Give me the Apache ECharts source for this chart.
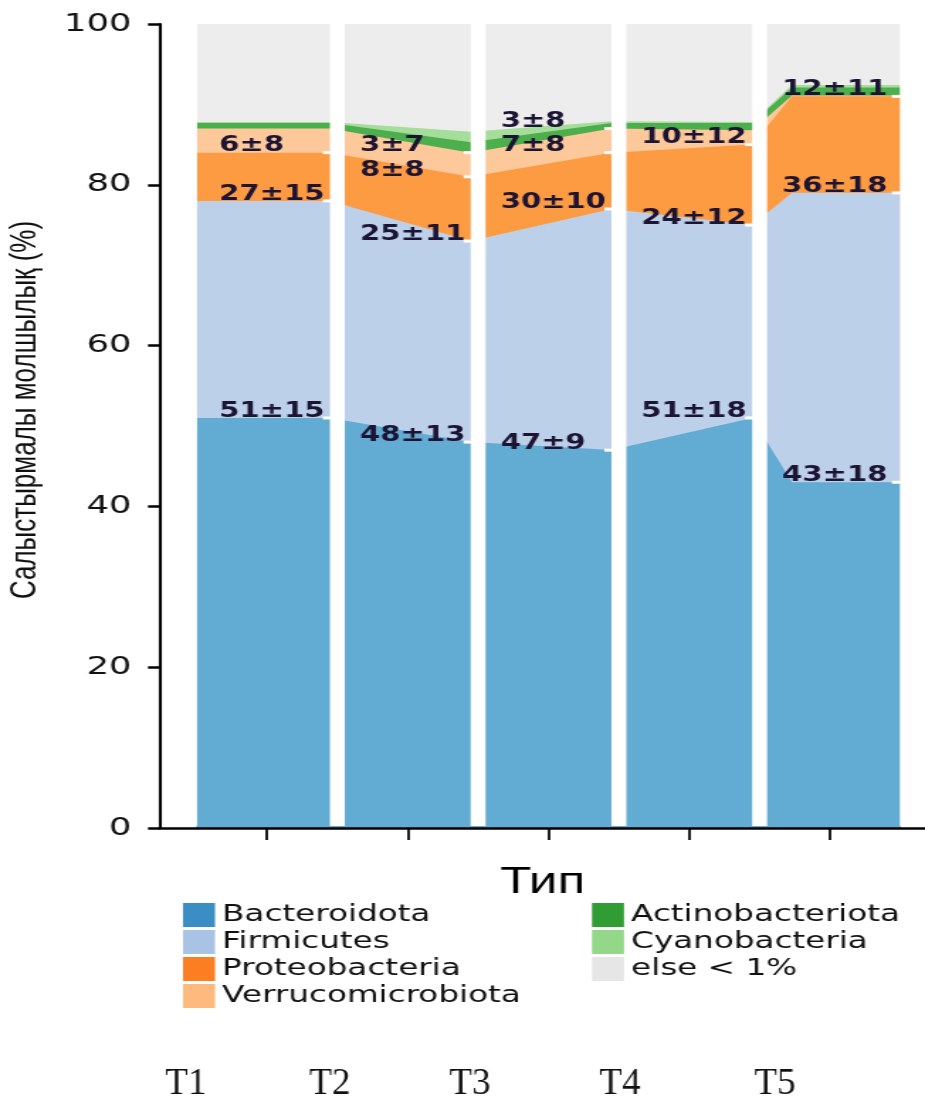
<!DOCTYPE html>
<html>
<head>
<meta charset="utf-8">
<script src="https://cdn.jsdelivr.net/npm/echarts@6/dist/echarts.min.js"></script>
<style>
  html, body { margin: 0; padding: 0; background: #fff; }
  #wrap { width: 925px; height: 1100px; overflow: hidden; background: #fff; }
  #chart { width: 652px; height: 1100px; transform-origin: 0 0; }
</style>
</head>
<body>
<div id="wrap"><div id="chart"></div></div>
<script>
// Group names and phyla
const categories = ['T1', 'T2', 'T3', 'T4', 'T5'];
const phyla = ['Bacteroidota', 'Firmicutes', 'Proteobacteria', 'Verrucomicrobiota',
               'Actinobacteriota', 'Cyanobacteria', 'else < 1%'];

// Mean relative abundance (%) per group
const bacteroidota      = [51, 48, 47, 51, 43];
const firmicutes        = [27, 25, 30, 24, 36];
const proteobacteria    = [6, 8, 7, 10, 12];
const verrucomicrobiota = [3.0, 3, 3, 1.8, 0.1];
const actinobacteriota  = [0.7, 1.3, 0.7, 0.9, 1.0];
const cyanobacteria     = [0.1, 1.3, 0.2, 0.1, 0.3];
const elseRest          = [12.2, 13.4, 12.1, 12.2, 7.6];

// Standard deviations shown in the value labels (null = no label)
const bacteroidotaSd      = [15, 13, 9, 18, 18];
const firmicutesSd        = [15, 11, 10, 12, 18];
const proteobacteriaSd    = [8, 8, 8, 12, 11];
const verrucomicrobiotaSd = [null, 7, 8, null, null];

// Y axis ticks
const yTicks = [0, 20, 40, 60, 80, 100];

// ---- layout ----
const S = 925 / 652;             // horizontal stretch of the drawing
const fx = px => px / S;         // page x -> canvas x
document.getElementById('chart').style.transform = 'scaleX(' + S + ')';

const HALF_GAP = 0.053;          // half width of white gap between bars (axis units)
const EDGE = 0.5 - HALF_GAP;     // bar right edge offset from its centre
// breakpoints of the band outlines: [x in axis units, group index]
const pointX     = [0.5, 1 + EDGE, 2 + EDGE, 3 + EDGE, 4 + EDGE, 4.73, 5.5];
const pointGroup = [0, 0, 1, 2, 3, 4, 4];

const values = [bacteroidota, firmicutes, proteobacteria, verrucomicrobiota,
                actinobacteriota, cyanobacteria, elseRest];
const areaColors = ['#62abd3', '#bdd0ea', '#fd9b42', '#fdc89a', '#4cae4c', '#a5dd9a', '#ededed'];
const legendColors = ['#3b8ec3', '#a9c3e5', '#fb7f22', '#fdba7e', '#2f9d33', '#93d789', '#e6e6e6'];

// running totals: top edge of each band in each group
const cumulative = values.map((_, k) =>
  categories.map((c, g) => values.slice(0, k + 1).reduce((a, arr) => a + arr[g], 0)));

// each band is filled from the axis up to its running total; upper totals are
// declared first so the lower bands paint over them
const bandSeries = phyla.map((name, k) => ({
  name: name,
  type: 'line',
  symbol: 'none',
  silent: true,
  z: 2,
  lineStyle: { width: 0, opacity: 0 },
  itemStyle: { color: legendColors[k] },
  areaStyle: { color: areaColors[k], opacity: 1, origin: 'start' },
  data: pointX.map((x, j) => [x, cumulative[k][pointGroup[j]]])
})).reverse();

// value labels "mean±sd" at the top of each labelled band
const labelled = [
  [bacteroidota, bacteroidotaSd, 0],
  [firmicutes, firmicutesSd, 1],
  [proteobacteria, proteobacteriaSd, 2],
  [verrucomicrobiota, verrucomicrobiotaSd, 3]
];
const labelData = [];
const labelText = [];
categories.forEach((c, g) => {
  labelled.forEach(([mean, sd, k]) => {
    if (sd[g] == null) return;
    const right = g === categories.length - 1 ? 5.49 : g + 1 + EDGE;
    labelData.push([g + 1 - 0.34, cumulative[k][g], right]);
    labelText.push(mean[g] + '±' + sd[g]);
  });
});

// white gaps between the bars, plus thin trims on the outer edges
const separators = [
  [1.5 - HALF_GAP, 1.5 + HALF_GAP], [2.5 - HALF_GAP, 2.5 + HALF_GAP],
  [3.5 - HALF_GAP, 3.5 + HALF_GAP], [4.5 - HALF_GAP, 4.5 + HALF_GAP],
  [0.45, 0.503], [5.497, 5.55]
].map(([a, b]) => [a, 0, b]);

const chart = echarts.init(document.getElementById('chart'), null, { renderer: 'canvas' });

const legendBase = {
  orient: 'vertical', top: 903, padding: 0,
  itemWidth: fx(32), itemHeight: 24, itemGap: 3,
  selectedMode: false,
  textStyle: { fontFamily: 'DejaVu Sans', fontSize: 23, color: '#111' }
};

chart.setOption({
  animation: false,
  backgroundColor: '#ffffff',
  grid: {
    left: fx(160), right: 0, top: 24, bottom: 1100 - 828,
    containLabel: false, outerBoundsMode: 'none'
  },
  legend: [
    Object.assign({}, legendBase, {
      left: fx(183),
      data: phyla.slice(0, 4).map((n, i) => ({ name: n, icon: 'rect', itemStyle: { color: legendColors[i] } }))
    }),
    Object.assign({}, legendBase, {
      left: fx(592),
      data: phyla.slice(4).map((n, i) => ({ name: n, icon: 'rect', itemStyle: { color: legendColors[i + 4] } }))
    })
  ],
  xAxis: {
    type: 'value',
    min: 0.2398, max: 5.675,
    z: 10,
    name: 'Тип',
    nameLocation: 'middle',
    nameGap: 37,
    nameMoveOverlap: false,
    nameTextStyle: { fontFamily: 'Liberation Sans', fontSize: 36, color: '#000' },
    axisLine: { show: true, onZero: false, lineStyle: { color: '#000', width: 2.5 } },
    axisTick: { show: true, length: 12, customValues: [1, 2, 3, 4, 5],
                lineStyle: { color: '#000', width: 2.5 / S } },
    axisLabel: { show: false },
    splitLine: { show: false }
  },
  yAxis: {
    type: 'value',
    min: yTicks[0], max: yTicks[yTicks.length - 1], interval: 20,
    z: 10,
    axisLine: { show: true, onZero: false, lineStyle: { color: '#000', width: 3 / S } },
    axisTick: { show: true, length: 12 / S, lineStyle: { color: '#000', width: 2.5 } },
    axisLabel: { margin: 20, fontFamily: 'DejaVu Sans', fontSize: 25, color: '#111' },
    splitLine: { show: false }
  },
  graphic: [
    {
      type: 'text', x: fx(25.5), y: 410, rotation: Math.PI / 2, silent: true,
      style: {
        text: 'Салыстырмалы молшылық (%)',
        font: '26px "Liberation Sans", Arial, sans-serif',
        fill: '#111', align: 'center', verticalAlign: 'middle'
      }
    }
  ].concat(categories.map((c, i) => ({
    type: 'text',
    x: fx([186, 330, 470, 620, 775][i]), y: 1084.5,
    scaleX: 1 / S, silent: true,
    style: {
      text: c, font: '37px "Liberation Serif", "Times New Roman", serif',
      fill: '#111', align: 'center', verticalAlign: 'middle'
    }
  }))),
  series: bandSeries.concat([
    {
      type: 'custom',
      name: 'gaps',
      silent: true,
      z: 3,
      data: separators,
      encode: { x: 0, y: 1 },
      renderItem: function (params, api) {
        const a = api.coord([api.value(0), 100]);
        const b = api.coord([api.value(2), 0]);
        return {
          type: 'rect',
          shape: { x: a[0], y: a[1] - 1, width: b[0] - a[0], height: b[1] - a[1] - 1 },
          style: { fill: '#ffffff' }
        };
      }
    },
    {
      type: 'custom',
      name: 'labels',
      silent: true,
      z: 4,
      data: labelData,
      encode: { x: 0, y: 1 },
      renderItem: function (params, api) {
        const p = api.coord([api.value(0), api.value(1)]);
        const r = api.coord([api.value(2), api.value(1)]);
        return {
          type: 'group',
          children: [
            { type: 'rect', shape: { x: r[0] - 5, y: r[1] - 1.5, width: 6, height: 3 },
              style: { fill: '#ffffff' } },
            { type: 'text', x: p[0], y: p[1] + 4,
              style: { text: labelText[params.dataIndex], fill: '#1c1433',
                       font: 'bold 20.5px "DejaVu Sans", sans-serif',
                       align: 'left', verticalAlign: 'bottom' } }
          ]
        };
      }
    }
  ])
});
</script>
</body>
</html>
